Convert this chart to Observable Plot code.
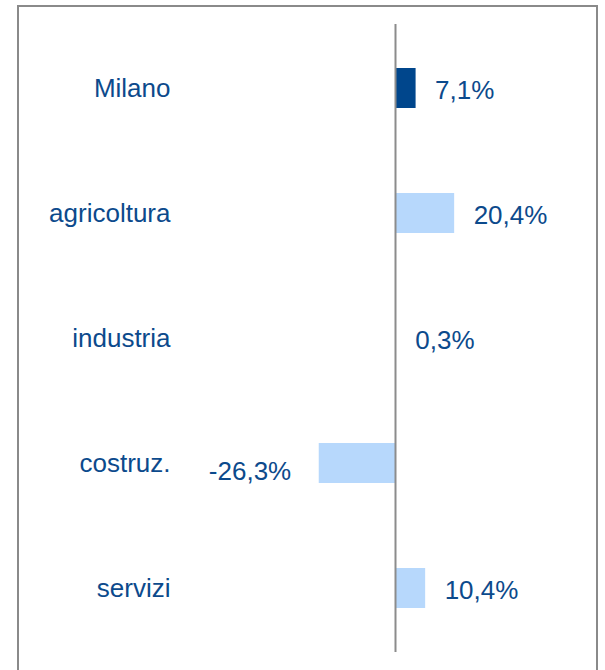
<!DOCTYPE html>
<html>
<head>
<meta charset="utf-8">
<script src="https://cdn.jsdelivr.net/npm/d3@7"></script>
<script src="https://cdn.jsdelivr.net/npm/@observablehq/plot@0.6"></script>
<style>
  html, body { margin: 0; padding: 0; background: #fff; }
  body { width: 605px; height: 670px; overflow: hidden; position: relative; font-family: "Liberation Sans", Arial, sans-serif; }
  #chart { position: absolute; left: 0; top: 0; }
  #frame { position: absolute; left: 17px; top: 5px; width: 577px; height: 700px; border: 2.5px solid #8a8a8a; border-bottom: none; pointer-events: none; }
</style>
</head>
<body>
<div id="chart"></div>
<div id="frame"></div>
<script>
const categories = ["Milano", "agricoltura", "industria", "costruz.", "servizi"];
const values = [7.1, 20.4, 0.3, -26.3, 10.4];

const data = categories.map((c, i) => ({cat: c, value: values[i]}));
const fmt = v => v.toFixed(1).replace(".", ",") + "%";
const dark = "#00468c";
const light = "#b7d8fc";
const textColor = "#0c4a8c";

const chart = Plot.plot({
  width: 605,
  height: 670,
  marginTop: 24,
  marginBottom: 18,
  marginLeft: 178,
  marginRight: 20,
  style: {fontFamily: "'Liberation Sans', Arial, sans-serif", color: textColor, background: "transparent"},
  x: {domain: [-30, 30], range: [308, 482], axis: null},
  y: {domain: categories, paddingInner: 0.681, paddingOuter: 0.3405, label: null},
  marks: [
    Plot.barX(data, {x: "value", y: "cat", fill: d => d.cat === "Milano" ? dark : light}),
    Plot.ruleX([0], {stroke: "#8c8c8c", strokeWidth: 2}),
    Plot.axisY({tickSize: 0, tickPadding: 8, fontSize: 26, fill: textColor, label: null}),
    Plot.text(data.filter(d => d.value >= 0), {x: "value", y: "cat", text: d => fmt(d.value), textAnchor: "start", dx: 19, dy: 2, fontSize: 26, fill: textColor}),
    Plot.text(data.filter(d => d.value < 0), {x: "value", y: "cat", text: d => fmt(d.value), textAnchor: "end", dx: -28, dy: 8, fontSize: 26, fill: textColor})
  ]
});
document.getElementById("chart").appendChild(chart);
</script>
</body>
</html>
